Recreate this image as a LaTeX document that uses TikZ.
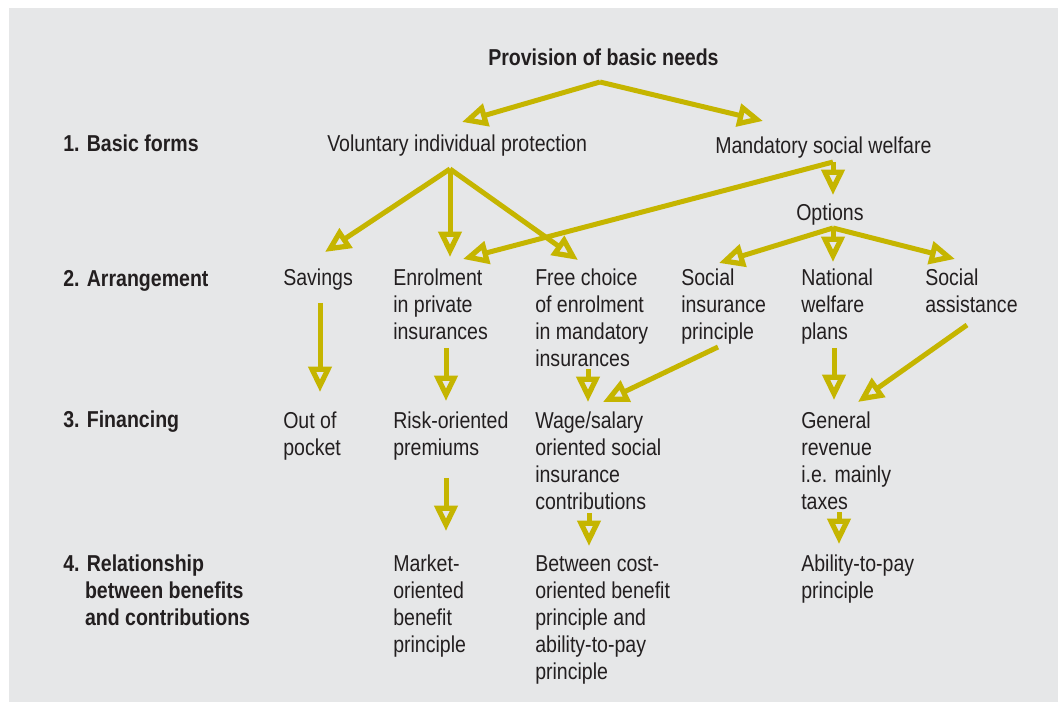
\documentclass[tikz,border=0pt]{standalone}
\usepackage{fontspec}
\setmainfont{Liberation Sans}[FakeStretch=0.85]
\usepackage{xcolor}
\usepackage{tikz}
\usetikzlibrary{positioning,arrows.meta,calc}
\definecolor{NeedsOlive}{HTML}{C5B500}
\definecolor{PanelGrey}{HTML}{E6E7E8}
\definecolor{InkGrey}{HTML}{231F20}
\tikzset{
  item/.style={anchor=north west,align=left,inner sep=0pt,text=InkGrey,
    font=\fontsize{17.25pt}{20.25pt}\selectfont},
  level/.style={item,font=\fontsize{17.25pt}{20.25pt}\selectfont\bfseries},
  arr/.style={-{Triangle[open,length=19pt,width=17pt,line width=3.9pt]},line width=3.75pt,draw=NeedsOlive},
}

\begin{document}
\begin{tikzpicture}[x=0.75pt,y=-0.75pt]
\useasboundingbox (0,0) rectangle (1058,702);
\fill[PanelGrey] (9,8) rectangle (1058,702);

% levels on the left
\node[level] (l1) at (63,135) {1. Basic forms};
\node[level] (l2) at (63,270) {2. Arrangement};
\node[level] (l3) at (63,411) {3. Financing};
\node[level] (l4) at (63,555) {4. Relationship\\\hphantom{4.~}between benefits\\\hphantom{4.~}and contributions};

% top and basic forms
\node[level] (needs) at (488,49) {Provision of basic needs};
\node[item] (vol) at (327,135) {Voluntary individual protection};
\node[item] (mand) at (715,137) {Mandatory social welfare};
\node[item] (opt) at (796,204) {Options};

% arrangement
\node[item] (sav) at (283,269) {Savings};
\node[item] (enrol) at (393,269) {Enrolment\\in private\\insurances};
\node[item] (free) at (535,269) {Free choice\\of enrolment\\in mandatory\\insurances};
\node[item] (sip) at (681,269) {Social\\insurance\\principle};
\node[item] (nwp) at (801,269) {National\\welfare\\plans};
\node[item] (sass) at (925,269) {Social\\assistance};

% financing
\node[item] (pocket) at (283,412) {Out of\\pocket};
\node[item] (risk) at (393,412) {Risk-oriented\\premiums};
\node[item] (wage) at (535,412) {Wage/salary\\oriented social\\insurance\\contributions};
\node[item] (revenue) at (801,412) {General\\revenue\\i.e. mainly\\taxes};

% benefits vs contributions
\node[item] (market) at (393,555) {Market-\\oriented\\benefit\\principle};
\node[item] (between) at (535,555) {Between cost-\\oriented benefit\\principle and\\ability-to-pay\\principle};
\node[item] (ability) at (801,555) {Ability-to-pay\\principle};

% forks
\coordinate (needs fork) at ($(needs.north west)+(112,33)$);
\coordinate (vol fork) at ($(vol.north west)+(123,34)$);
\coordinate (mand fork) at ($(mand.north west)+(118,25)$);
\coordinate (opt fork) at ($(opt.north west)+(37,24)$);

\draw[arr] (needs fork) -- ($(vol.north west)+(135,-13)$);
\draw[arr] (needs fork) -- ($(mand.north west)+(48,-16)$);
\draw[arr] (vol fork) -- ($(sav.north west)+(42,-17)$);
\draw[arr] (vol fork) -- ($(enrol.north west)+(57,-12)$);
\draw[arr] (vol fork) -- ($(free.north west)+(43,-9)$);
\draw[arr] (mand fork) -- ($(enrol.north west)+(70,-10)$);
\draw[arr] (mand fork) -- ($(opt.north west)+(37,-9)$);
\draw[arr] (opt fork) -- ($(sip.north west)+(38,-6)$);
\draw[arr] (opt fork) -- ($(nwp.north west)+(32,-7)$);
\draw[arr] (opt fork) -- ($(sass.north west)+(30,-10)$);

\draw[arr] ($(sav.north west)+(37,34)$) -- ($(pocket.north west)+(37,-20)$);
\draw[arr] ($(enrol.north west)+(53,79)$) -- ($(risk.north west)+(53,-11)$);
\draw[arr] ($(free.north west)+(53,100)$) -- ($(wage.north west)+(53,-10)$);
\draw[arr] ($(sip.north west)+(37,78)$) -- ($(wage.north west)+(68,-10)$);
\draw[arr] ($(nwp.north west)+(33,79)$) -- ($(revenue.north west)+(33,-12)$);
\draw[arr] ($(sass.north west)+(42,56)$) -- ($(revenue.north west)+(57,-10)$);

\draw[arr] ($(risk.north west)+(53,66)$) -- ($(market.north west)+(53,-24)$);
\draw[arr] ($(wage.north west)+(54,101)$) -- ($(between.north west)+(54,-9)$);
\draw[arr] ($(revenue.north west)+(38,100)$) -- ($(ability.north west)+(38,-11)$);
\end{tikzpicture}
\end{document}
